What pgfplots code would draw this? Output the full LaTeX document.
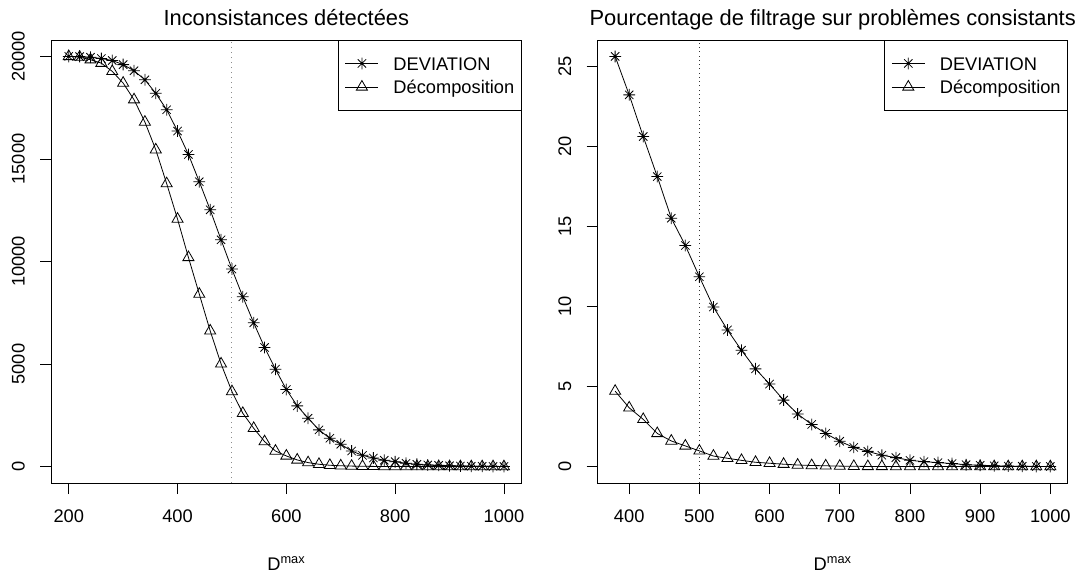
\documentclass[border=0pt]{standalone}
\usepackage{fontspec}
\setmainfont{Liberation Sans}
\usepackage{pgfplots}
\pgfplotsset{compat=1.18}

% R pch=8: eight arms of equal length
\pgfdeclareplotmark{rstar}{%
  \pgfpathmoveto{\pgfqpoint{-\pgfplotmarksize}{0pt}}\pgfpathlineto{\pgfqpoint{\pgfplotmarksize}{0pt}}%
  \pgfpathmoveto{\pgfqpoint{0pt}{-\pgfplotmarksize}}\pgfpathlineto{\pgfqpoint{0pt}{\pgfplotmarksize}}%
  \pgfpathmoveto{\pgfqpoint{-0.7071\pgfplotmarksize}{-0.7071\pgfplotmarksize}}\pgfpathlineto{\pgfqpoint{0.7071\pgfplotmarksize}{0.7071\pgfplotmarksize}}%
  \pgfpathmoveto{\pgfqpoint{-0.7071\pgfplotmarksize}{0.7071\pgfplotmarksize}}\pgfpathlineto{\pgfqpoint{0.7071\pgfplotmarksize}{-0.7071\pgfplotmarksize}}%
  \pgfusepathqstroke}

\newcommand{\tickfont}{\fontsize{13.7}{16}\selectfont}
\newcommand{\titlefont}{\fontsize{16.4}{19}\selectfont}

\pgfplotsset{
  rpanel/.style={
    scale only axis, width=352.5pt, height=332.25pt,
    axis line style={line width=0.6pt},
    tick style={line width=0.6pt, black},
    tick align=outside, major tick length=8.25pt, tick pos=left,
    ticklabel style={font=\tickfont},
    /pgf/number format/assume math mode=true,
    /pgf/number format/set thousands separator={},
    scaled ticks=false,
    yticklabel style={rotate=90, anchor=south, inner sep=0pt},
    xticklabel style={anchor=base, inner sep=0pt},
    yticklabel shift=11.45pt, xticklabel shift=21.55pt,
    title style={at={(0.5,1)}, anchor=base, yshift=4.5pt, inner sep=0pt, font=\titlefont},
    xlabel={D\textsuperscript{max}},
    xlabel style={at={(0.5,0)}, anchor=base, yshift=-65.5pt, inner sep=0pt, font=\tickfont},
    legend cell align=left,
    legend style={at={(1,1)}, anchor=north east, draw=black, line width=0.6pt,
      font=\tickfont, inner xsep=5pt, inner ysep=9.3pt, row sep=1.6pt,
      nodes={inner sep=0pt, text height=13pt, text depth=3pt},
      /tikz/every odd column/.append style={column sep=11pt}},
    legend image code/.code={\draw[mark repeat=2, mark phase=2]
      plot coordinates {(0pt,0pt) (12.4pt,0pt) (24.75pt,0pt)};},
  },
  dev/.style={black, line width=0.6pt, mark=rstar, mark size=4.4pt, mark options={solid}},
  dec/.style={black, line width=0.6pt, mark=triangle, mark size=4.8pt, mark options={solid}},
}

\begin{document}
\begin{tikzpicture}
\path[use as bounding box] (0,0) rectangle (816pt,432pt);

\begin{axis}[rpanel, at={(38.5pt,69.75pt)}, anchor=south west,
  xmin=168, xmax=1032, ymin=-800, ymax=20800,
  xtick={200,400,600,800,1000}, ytick={0,5000,10000,15000,20000},
  title={Inconsistances détectées}]
\addplot[black!45, line width=0.75pt, dash pattern=on 0.75pt off 3pt, forget plot]
  coordinates {(500,-800) (500,20800)};
\addplot[dev] coordinates {
  (200,20000) (220,19990) (240,19960) (260,19900) (280,19800) (300,19600)
  (320,19300) (340,18860) (360,18200) (380,17400) (400,16360) (420,15220)
  (440,13890) (460,12520) (480,11060) (500,9630) (520,8280) (540,7010)
  (560,5810) (580,4750) (600,3760) (620,2960) (640,2360) (660,1790)
  (680,1380) (700,1090) (720,760) (740,550) (760,420) (780,310)
  (800,240) (820,160) (840,110) (860,80) (880,60) (900,40)
  (920,30) (940,20) (960,15) (980,10) (1000,8)
};
\addplot[dec] coordinates {
  (200,20000) (220,19970) (240,19840) (260,19670) (280,19270) (300,18700)
  (320,17890) (340,16800) (360,15450) (380,13800) (400,12070) (420,10200)
  (440,8410) (460,6620) (480,5010) (500,3660) (520,2600) (540,1870)
  (560,1220) (580,760) (600,520) (620,325) (640,195) (660,114)
  (680,65) (700,40) (720,25) (740,15) (760,10) (780,6)
  (800,4) (820,3) (840,2) (860,1) (880,0) (900,0)
  (920,0) (940,0) (960,0) (980,0) (1000,0)
};
\legend{DEVIATION, Décomposition}
\end{axis}

\begin{axis}[rpanel, at={(448.3pt,69.75pt)}, anchor=south west,
  xmin=355.2, xmax=1024.8, ymin=-1.024, ymax=26.624,
  xtick={400,500,...,1000}, ytick={0,5,10,15,20,25},
  title={Pourcentage de filtrage sur problèmes consistants}]
\addplot[black!80, line width=0.6pt, dash pattern=on 0.6pt off 2.6pt, forget plot]
  coordinates {(500,-1.024) (500,26.624)};
\addplot[dev] coordinates {
  (380,25.6) (400,23.2) (420,20.6) (440,18.1) (460,15.5) (480,13.8)
  (500,11.85) (520,9.96) (540,8.53) (560,7.26) (580,6.10) (600,5.15)
  (620,4.15) (640,3.28) (660,2.63) (680,2.07) (700,1.58) (720,1.20)
  (740,0.95) (760,0.71) (780,0.56) (800,0.39) (820,0.31) (840,0.25)
  (860,0.19) (880,0.12) (900,0.08) (920,0.05) (940,0.03) (960,0.02)
  (980,0.01) (1000,0.01)
};
\addplot[dec] coordinates {
  (380,4.71) (400,3.67) (420,2.95) (440,2.07) (460,1.60) (480,1.29)
  (500,0.98) (520,0.66) (540,0.52) (560,0.39) (580,0.27) (600,0.21)
  (620,0.15) (640,0.10) (660,0.07) (680,0.05) (700,0.03) (720,0.02)
  (740,0.01) (760,0.01) (780,0) (800,0) (820,0) (840,0)
  (860,0) (880,0) (900,0) (920,0) (940,0) (960,0)
  (980,0) (1000,0)
};
\legend{DEVIATION, Décomposition}
\end{axis}
\end{tikzpicture}
\end{document}
